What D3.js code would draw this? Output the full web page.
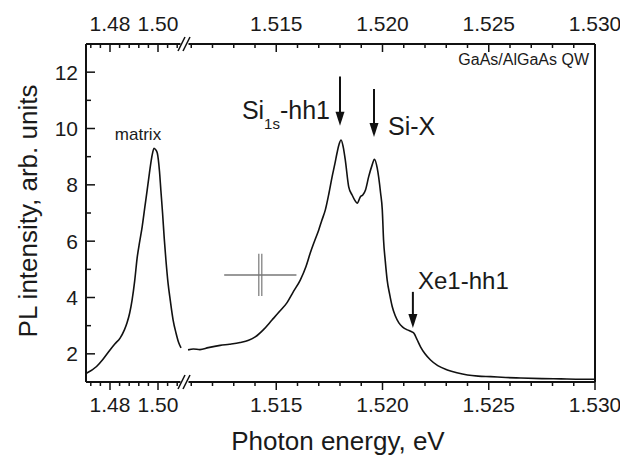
<!DOCTYPE html>
<html>
<head>
<meta charset="utf-8">
<script src="https://cdn.jsdelivr.net/npm/d3@7"></script>
<style>
  body{margin:0;background:#fff;}
  text{font-family:"Liberation Sans",Arial,Helvetica,sans-serif;fill:#1a1a1a;}
</style>
</head>
<body>
<div id="chart"></div>
<script>
const w=620;
const h=459;

// matrix peak (left part of the broken axis)
const matrixE=[1.4700,1.4744,1.4770,1.4800,1.4820,1.4842,1.4860,1.4871,1.4882,1.4892,1.4903,1.4913,1.4924,1.4934,1.4945,1.4955,1.4964,1.4972,1.4978,1.4983,1.4990,1.4997,1.5006,1.5012,1.5019,1.5026,1.5033,1.5042,1.5051,1.5063,1.5075,1.5086,1.5096];
const matrixI=[1.30,1.55,1.80,2.14,2.35,2.56,2.85,3.10,3.45,3.91,4.60,5.40,6.00,6.51,7.20,7.82,8.40,8.88,9.15,9.30,9.25,9.13,8.50,7.80,7.00,6.10,5.33,4.50,3.91,3.20,2.74,2.40,2.21];

// quantum well emission (right part)
const qwE=[1.51085,1.51110,1.51141,1.51180,1.51236,1.51280,1.51330,1.51370,1.51401,1.51440,1.51480,1.51515,1.51550,1.51580,1.51613,1.51640,1.51660,1.51680,1.51700,1.51715,1.51731,1.51748,1.51763,1.51776,1.51786,1.51796,1.51805,1.51815,1.51825,1.51841,1.51857,1.51870,1.51881,1.51896,1.51908,1.51920,1.51935,1.51951,1.51962,1.51975,1.51991,1.51999,1.52005,1.52013,1.52022,1.52034,1.52046,1.52060,1.52077,1.52095,1.52117,1.52133,1.52148,1.52163,1.52179,1.52200,1.52226,1.52260,1.52305,1.52350,1.52400,1.52450,1.52509,1.52580,1.52651,1.52750,1.52840,1.52920,1.53000];
const qwI=[2.14,2.17,2.15,2.22,2.30,2.34,2.40,2.48,2.60,2.86,3.20,3.50,3.81,4.20,4.62,5.10,5.58,6.00,6.40,6.75,7.11,7.70,8.29,8.75,9.13,9.45,9.59,9.35,8.88,7.93,7.64,7.45,7.35,7.58,7.65,7.82,8.29,8.70,8.91,8.60,7.71,7.11,6.04,5.30,4.62,4.10,3.67,3.35,3.10,2.95,2.85,2.80,2.73,2.50,2.25,2.00,1.78,1.58,1.43,1.33,1.25,1.21,1.19,1.16,1.14,1.12,1.11,1.10,1.10];

const leftDomain=[1.47,1.51];
const rightDomain=[1.5108,1.530];
const leftMajor=[1.48,1.50];
const leftMinor=[1.472,1.476,1.484,1.488,1.492,1.496,1.504,1.508];
const rightMajor=[1.515,1.520,1.525,1.530];
const leftLabels=["1.48","1.50"];
const rightLabels=["1.515","1.520","1.525","1.530"];
const yMajor=[2,4,6,8,10,12];
const yMinor=[3,5,7,9,11];

// arrows: energy, top of the shaft, tip (intensity units)
const arrows=[
  {e:1.5180,y0:11.85,y1:10.10},
  {e:1.5196,y0:11.40,y1:9.70},
  {e:1.52143,y0:4.20,y1:2.92}
];
const crossCenter=[1.51425,4.80];
const crossHalf=[0.0017,0.75];

const m={left:86,right:595,top:44,bottom:382};
const breakX=184.5;

const svg=d3.select("#chart").append("svg").attr("width",w).attr("height",h);

const xL=d3.scaleLinear().domain(leftDomain).range([m.left,182]);
const xR=d3.scaleLinear().domain(rightDomain).range([187,m.right]);
const y=d3.scaleLinear().domain([1,13]).range([m.bottom,m.top]);

const line=xs=>d3.line().x(d=>xs(d[0])).y(d=>y(d[1])).curve(d3.curveMonotoneX);

svg.append("path")
  .attr("d",line(xL)(d3.zip(matrixE,matrixI)))
  .attr("fill","none").attr("stroke","#111").attr("stroke-width",1.6);
svg.append("path")
  .attr("d",line(xR)(d3.zip(qwE,qwI)))
  .attr("fill","none").attr("stroke","#111").attr("stroke-width",1.6);

// frame
const frame=svg.append("g").attr("stroke","#111").attr("stroke-width",2).attr("fill","none");
frame.append("line").attr("x1",m.left).attr("x2",m.left).attr("y1",m.top).attr("y2",m.bottom);
frame.append("line").attr("x1",m.right).attr("x2",m.right).attr("y1",m.top).attr("y2",m.bottom);
frame.append("line").attr("x1",m.left).attr("x2",m.right).attr("y1",m.top).attr("y2",m.top);
frame.append("line").attr("x1",m.left).attr("x2",m.right).attr("y1",m.bottom).attr("y2",m.bottom);

const ticks=svg.append("g").attr("stroke","#111").attr("stroke-width",1.5);
const rightMinor=d3.range(1511,1530).map(v=>v/1000).filter(v=>!rightMajor.some(t=>Math.abs(t-v)<1e-6));
const xTicks=[].concat(
  leftMajor.map(v=>[xL(v),8]),leftMinor.map(v=>[xL(v),4]),
  rightMajor.map(v=>[xR(v),8]),rightMinor.map(v=>[xR(v),4]));
xTicks.forEach(([x,len])=>{
  ticks.append("line").attr("x1",x).attr("x2",x).attr("y1",m.bottom).attr("y2",m.bottom+len);
  ticks.append("line").attr("x1",x).attr("x2",x).attr("y1",m.top).attr("y2",m.top+len);
});
yMajor.forEach(v=>ticks.append("line").attr("x1",m.left).attr("x2",m.left+9).attr("y1",y(v)).attr("y2",y(v)));
yMinor.forEach(v=>ticks.append("line").attr("x1",m.left).attr("x2",m.left+5).attr("y1",y(v)).attr("y2",y(v)));

// axis break marks
[m.top,m.bottom].forEach(yy=>{
  svg.append("rect").attr("x",breakX-4).attr("y",yy-2).attr("width",8).attr("height",4).attr("fill","#fff");
  [-3,2].forEach(dx=>{
    svg.append("line").attr("x1",breakX+dx-3.5).attr("y1",yy+7).attr("x2",breakX+dx+3.5).attr("y2",yy-7)
      .attr("stroke","#111").attr("stroke-width",1.5);
  });
});

// tick labels
const labs=[].concat(leftMajor.map((v,i)=>[xL(v),leftLabels[i]]),rightMajor.map((v,i)=>[xR(v),rightLabels[i]]));
labs.forEach(([x,t])=>{
  svg.append("text").attr("x",x).attr("y",412).attr("text-anchor","middle").attr("font-size",21).text(t);
  svg.append("text").attr("x",x).attr("y",31).attr("text-anchor","middle").attr("font-size",21).text(t);
});
yMajor.forEach(v=>svg.append("text").attr("x",78).attr("y",y(v)+7.5).attr("text-anchor","end").attr("font-size",21).text(v));

// axis titles
svg.append("text").attr("x",338).attr("y",450).attr("text-anchor","middle").attr("font-size",26).text("Photon energy, eV");
svg.append("text").attr("transform","translate(37,211) rotate(-90)").attr("text-anchor","middle").attr("font-size",26).text("PL intensity, arb. units");

// arrows
arrows.forEach(a=>{
  const x=xR(a.e),ya=y(a.y0),yb=y(a.y1);
  svg.append("line").attr("x1",x).attr("x2",x).attr("y1",ya).attr("y2",yb-10).attr("stroke","#111").attr("stroke-width",2);
  svg.append("path").attr("d",`M${x-4.5},${yb-14}L${x+4.5},${yb-14}L${x},${yb}Z`).attr("fill","#111");
});

// labels
const si=svg.append("text").attr("x",330).attr("y",119).attr("text-anchor","end").attr("font-size",25);
si.append("tspan").text("Si");
si.append("tspan").attr("font-size",15).attr("dy",10).text("1s");
si.append("tspan").attr("dy",-10).text("-hh1");
svg.append("text").attr("x",388).attr("y",135).attr("font-size",25).text("Si-X");
svg.append("text").attr("x",418).attr("y",289).attr("font-size",24).text("Xe1-hh1");
svg.append("text").attr("x",138).attr("y",140).attr("text-anchor","middle").attr("font-size",17).text("matrix");
svg.append("text").attr("x",589).attr("y",65).attr("text-anchor","end").attr("font-size",16).text("GaAs/AlGaAs QW");

// resolution cross
const cx=xR(crossCenter[0]),cy=y(crossCenter[1]);
svg.append("line").attr("x1",xR(crossCenter[0]-crossHalf[0])).attr("x2",xR(crossCenter[0]+crossHalf[0]))
  .attr("y1",cy).attr("y2",cy).attr("stroke","#777").attr("stroke-width",1.5);
[-1.5,1.5].forEach(dx=>svg.append("line").attr("x1",cx+dx).attr("x2",cx+dx)
  .attr("y1",y(crossCenter[1]+crossHalf[1])).attr("y2",y(crossCenter[1]-crossHalf[1]))
  .attr("stroke","#777").attr("stroke-width",1.2));
</script>
</body>
</html>
